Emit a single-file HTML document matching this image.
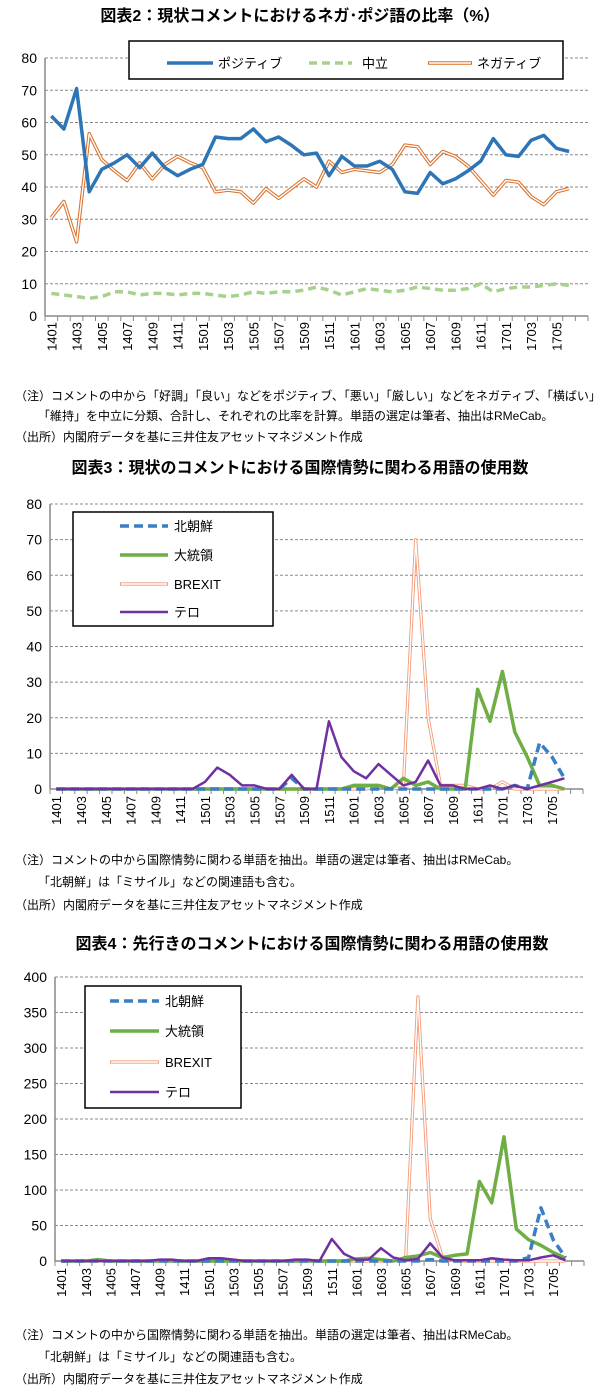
<!DOCTYPE html>
<html><head><meta charset="utf-8">
<style>
body{margin:0;background:#fff;width:600px;height:1392px;overflow:hidden;font-family:"Liberation Sans","Noto Sans CJK JP",sans-serif;}
svg{position:absolute;left:0;top:0}
</style></head>
<body>
<svg id="root" width="600" height="1392" viewBox="0 0 600 1392">
<g font-family="Liberation Sans, Noto Sans CJK JP, sans-serif" fill="#000">
<text x="300" y="21" text-anchor="middle" font-size="16" font-weight="bold">図表2：現状コメントにおけるネガ･ポジ語の比率（%）</text>
<text x="300" y="473" text-anchor="middle" font-size="16" font-weight="bold">図表3：現状のコメントにおける国際情勢に関わる用語の使用数</text>
<text x="312" y="949" text-anchor="middle" font-size="16" font-weight="bold">図表4：先行きのコメントにおける国際情勢に関わる用語の使用数</text>
<g font-size="12">
<text x="15" y="400">（注）コメントの中から「好調」「良い」などをポジティブ、「悪い」「厳しい」などをネガティブ、「横ばい」</text>
<text x="38" y="420">「維持」を中立に分類、合計し、それぞれの比率を計算。単語の選定は筆者、抽出はRMeCab。</text>
<text x="15" y="441">（出所）内閣府データを基に三井住友アセットマネジメント作成</text>
</g>
<g font-size="12">
<text x="15" y="864">（注）コメントの中から国際情勢に関わる単語を抽出。単語の選定は筆者、抽出はRMeCab。</text>
<text x="38" y="886">「北朝鮮」は「ミサイル」などの関連語も含む。</text>
<text x="15" y="909">（出所）内閣府データを基に三井住友アセットマネジメント作成</text>
</g>
<g font-size="12">
<text x="15" y="1339">（注）コメントの中から国際情勢に関わる単語を抽出。単語の選定は筆者、抽出はRMeCab。</text>
<text x="38" y="1361">「北朝鮮」は「ミサイル」などの関連語も含む。</text>
<text x="15" y="1383">（出所）内閣府データを基に三井住友アセットマネジメント作成</text>
</g>
</g>
</svg>
<script>
const categories = ["1401","1402","1403","1404","1405","1406","1407","1408","1409","1410","1411","1412","1501","1502","1503","1504","1505","1506","1507","1508","1509","1510","1511","1512","1601","1602","1603","1604","1605","1606","1607","1608","1609","1610","1611","1612","1701","1702","1703","1704","1705","1706"];
const c1Positive = [62,58,70.5,38.5,45.5,47.5,50,46,50.5,46,43.5,45.5,47,55.5,55,55,58,54,55.5,53,50,50.5,43.5,49.5,46.5,46.5,48,45.5,38.5,38,44.5,41,42.5,45,48,55,50,49.5,54.5,56,52,51];
const c1Neutral = [7,6.5,6,5.5,6,7.5,7.5,6.5,7,7,6.5,7,7,6.5,6,6.5,7.5,7,7.5,7.5,8,9,8,6.5,7.5,8.5,8,7.5,8,9,8.5,8,8,8.5,10,7.5,8.5,9,9,9.5,10,9.5];
const c1Negative = [30.5,35.5,23,56.5,48.5,45,42,47.5,42.5,47,49.5,47.5,46,38.5,39,38.5,35,39.5,36.5,39.5,42.5,40,48,44.5,45.5,45,44.5,47,53,52.5,47,51,49.5,46.5,42,37.5,42,41.5,37,34.5,38.5,39.5];
const c1Ticks = [0,10,20,30,40,50,60,70,80];
const c2Kita = [0,0,0,0,0,0,0,0,0,0,0,0,0,0,0,0,0,0,0,3,0,0,0,0,0,0,0,0,0,0,0,0,0,0,0,0,0,1,0,13,9,3];
const c2Daitoryo = [0,0,0,0,0,0,0,0,0,0,0,0,0,0,0,0,0,0,0,0,0,0,0,0,1,1,1,0,3,1,2,0,0,0,28,19,33,16,9,1,1,0];
const c2Brexit = [0,0,0,0,0,0,0,0,0,0,0,0,0,0,0,0,0,0,0,0,0,0,0,0,0,0,1,0,0.5,70,20,1,1,1,0,0,2,0,0,0,0,0];
const c2Tero = [0,0,0,0,0,0,0,0,0,0,0,0,2,6,4,1,1,0,0,4,0,0,19,9,5,3,7,4,1,2,8,1,1,0,0,1,0,1,0,1,2,3];
const c2Ticks = [0,10,20,30,40,50,60,70,80];
const c3Kita = [0,0,0,0,0,0,0,0,0,0,0,0,0,0,0,0,0,0,0,0,0,0,0,0,0,0,0,0,0,0,2,0,0,0,0,0,0,0,5,75,30,5];
const c3Daitoryo = [0,0,0,2,0,0,0,0,0,0,0,0,0,0,0,0,0,0,0,0,0,0,0,0,3,4,2,0,5,7,12,5,8,10,112,82,175,45,30,22,12,4];
const c3Brexit = [0,0,0,0,0,0,0,0,0,0,0,0,0,0,0,0,0,0,0,0,0,0,0,0,0,0,0,0,2,372,60,5,0,0,0,0,0,0,0,0,0,0];
const c3Tero = [0,0,0,0,0,0,0,0,2,2,0,0,4,4,2,0,0,0,0,2,2,0,31,10,2,2,18,5,1,3,25,5,1,1,1,4,2,1,1,5,8,1];
const c3Ticks = [0,50,100,150,200,250,300,350,400];

const NS = "http://www.w3.org/2000/svg";
const root = document.getElementById('root');
function mk(tag, attrs, parent){ const e=document.createElementNS(NS,tag); for(const k in attrs) e.setAttribute(k,attrs[k]); (parent||root).appendChild(e); return e; }

const STY = {
  pos:{stroke:"#2e75b6",w:3.5},
  neu:{stroke:"#a9d18e",w:3.5,dash:"8,5"},
  neg:{stroke:"#d9702a",w:3.5,inner:1.4},
  kita:{stroke:"#3a7fc1",w:3.5,dash:"9,5"},
  dai:{stroke:"#6fae45",w:3.5},
  brx:{stroke:"#f29a78",w:3.2,inner:1.4},
  tero:{stroke:"#7030a0",w:2.5}
};

function drawChart(id, L, R, top, bottom, ymax, ticks, seriesList, labelY){
  const g = mk('g',{});
  
  
  const n = categories.length + 1;
  const bw = (R - L) / n;
  const xs = i => L + bw * (i + 0.5);
  const ys = v => bottom - (v / ymax) * (bottom - top);
  ticks.forEach(t => {
    if (t > 0) {
      const gl = mk('line',{x1:L,x2:R,y1:ys(t),y2:ys(t),stroke:"#8a8a8a","stroke-width":1,"stroke-dasharray":"3,2"},g);
      
      
    }
    const tl = mk('text',{x:L-8,y:ys(t)+5,"text-anchor":"end","font-size":14,fill:"#000"},g);
    
    
    tl.textContent = t;
  });
  const ya = mk('line',{x1:L,x2:L,y1:top,y2:bottom,stroke:"#888","stroke-width":1.5},g);
  
  
  const xa = mk('line',{x1:L,x2:R,y1:bottom,y2:bottom,stroke:"#888","stroke-width":1.5},g);
  
  
  for (let i = 0; i <= n; i++) {
    const tk = mk('line',{x1:L+bw*i,x2:L+bw*i,y1:bottom,y2:bottom+5,stroke:"#888","stroke-width":1},g);
    
    
  }
  categories.forEach((c, i) => {
    if (i % 2) return;
    const x = xs(i);
    const t = mk('text',{x:0,y:0,"text-anchor":"end","font-size":13,fill:"#000",transform:`translate(${x+5},${labelY}) rotate(-90)`},g);
    
    
    t.textContent = c;
  });
  seriesList.forEach(s => {
    const d = s.data.map((v, i) => (i ? 'L' : 'M') + xs(i).toFixed(1) + ',' + ys(v).toFixed(1)).join(' ');
    const st = STY[s.style];
    const p = mk('path',{d:d,fill:"none",stroke:st.stroke,"stroke-width":st.w,"stroke-linejoin":"round"},g);
    if (st.dash) p.setAttribute('stroke-dasharray', st.dash);
    
    
    if (st.inner) {
      const p2 = mk('path',{d:d,fill:"none",stroke:"#fff","stroke-width":st.inner,"stroke-linejoin":"round"},g);
      
      
    }
  });
  return g;
}

function legendEntry(g, x1, x2, y, style, label, tx, fs){
  const st = STY[style];
  const l = mk('line',{x1:x1,x2:x2,y1:y,y2:y,stroke:st.stroke,"stroke-width":st.w},g);
  if (st.dash) l.setAttribute('stroke-dasharray', st.dash);
  
  
  if (st.inner) {
    const l2 = mk('line',{x1:x1+1,x2:x2-1,y1:y,y2:y,stroke:"#fff","stroke-width":st.inner},g);
    
    
  }
  const t = mk('text',{x:tx,y:y+5,"font-size":fs,fill:"#000"},g);
  
  
  t.textContent = label;
}

// Chart 1
const ch1 = drawChart('chart2-ratio', 45, 588, 58, 316, 80, c1Ticks, [
  {name:'neutral-line', style:'neu', data:c1Neutral},
  {name:'negative-line', style:'neg', data:c1Negative},
  {name:'positive-line', style:'pos', data:c1Positive}
], 322);
const lg1 = mk('g',{});


const b1 = mk('rect',{x:129,y:41,width:434,height:38,fill:"#fff",stroke:"#000","stroke-width":1.5},lg1);


legendEntry(lg1, 167, 213, 63, 'pos', 'ポジティブ', 218, 13);
legendEntry(lg1, 309, 352, 63, 'neu', '中立', 362, 13);
legendEntry(lg1, 428, 472, 63, 'neg', 'ネガティブ', 477, 13);

// Chart 2
drawChart('chart3-current-usage', 50, 583, 504, 789, 80, c2Ticks, [
  {name:'brexit-line', style:'brx', data:c2Brexit},
  {name:'daitoryo-line', style:'dai', data:c2Daitoryo},
  {name:'kita-line', style:'kita', data:c2Kita},
  {name:'tero-line', style:'tero', data:c2Tero}
], 796);
const lg2 = mk('g',{});


const b2 = mk('rect',{x:73,y:512,width:200,height:114,fill:"#fff",stroke:"#000","stroke-width":1.5},lg2);


legendEntry(lg2, 120, 168, 526, 'kita', '北朝鮮', 174, 13);
legendEntry(lg2, 120, 168, 555, 'dai', '大統領', 174, 13);
legendEntry(lg2, 120, 168, 584, 'brx', 'BREXIT', 174, 13);
legendEntry(lg2, 120, 168, 612, 'tero', 'テロ', 174, 13);

// Chart 3
drawChart('chart4-outlook-usage', 55, 584, 977, 1261, 400, c3Ticks, [
  {name:'brexit-line', style:'brx', data:c3Brexit},
  {name:'daitoryo-line', style:'dai', data:c3Daitoryo},
  {name:'kita-line', style:'kita', data:c3Kita},
  {name:'tero-line', style:'tero', data:c3Tero}
], 1268);
const lg3 = mk('g',{});


const b3 = mk('rect',{x:85,y:986,width:156,height:122,fill:"#fff",stroke:"#000","stroke-width":1.5},lg3);


legendEntry(lg3, 110, 159, 1001, 'kita', '北朝鮮', 165, 13);
legendEntry(lg3, 110, 159, 1031, 'dai', '大統領', 165, 13);
legendEntry(lg3, 110, 159, 1062, 'brx', 'BREXIT', 165, 13);
legendEntry(lg3, 110, 159, 1092, 'tero', 'テロ', 165, 13);
</script>
</body></html>
